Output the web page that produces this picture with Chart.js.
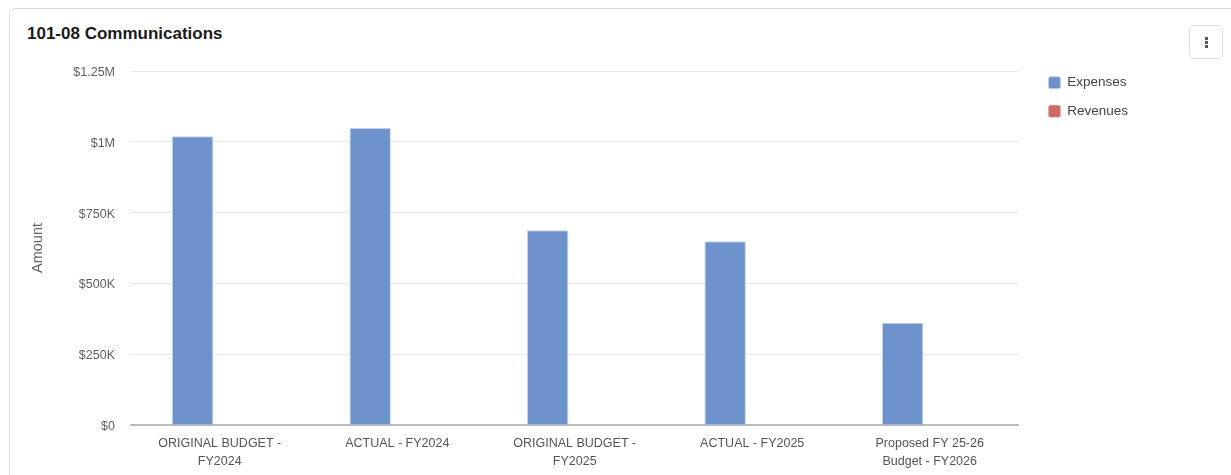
<!DOCTYPE html>
<html>
<head>
<meta charset="utf-8">
<title>101-08 Communications</title>
<script src="https://cdn.jsdelivr.net/npm/chart.js@4.4.1/dist/chart.umd.min.js"></script>
<style>
    html, body {
        margin: 0;
        padding: 0;
        width: 1231px;
        height: 475px;
        overflow: hidden;
        background: #ffffff;
        font-family: "Liberation Sans", Arial, Helvetica, sans-serif;
    }
    .card {
        position: absolute;
        left: 9px;
        top: 8px;
        width: 1240px;
        height: 480px;
        border: 1px solid #dcdcdc;
        border-radius: 6px;
        background: #ffffff;
    }
    .card-title {
        position: absolute;
        left: 17px;
        top: 15px;
        margin: 0;
        font-size: 17px;
        font-weight: bold;
        color: #1a1a1a;
    }
    .menu-btn {
        position: absolute;
        left: 1179px;
        top: 16px;
        width: 32px;
        height: 32px;
        border: 1px solid #dedede;
        border-radius: 5px;
        background: #ffffff;
    }
    .menu-btn span {
        position: absolute;
        left: 15px;
        width: 3px;
        height: 3px;
        background: #555;
    }
    .chart-wrap {
        position: absolute;
        left: 0;
        top: 0;
        width: 1231px;
        height: 475px;
    }
</style>
</head>
<body>
<div class="card">
    <h3 class="card-title">101-08 Communications</h3>
    <div class="menu-btn"><span style="top:11px"></span><span style="top:15px"></span><span style="top:19px"></span></div>
</div>
<div class="chart-wrap">
    <canvas id="budgetChart"></canvas>
</div>

<script>
// Budget lines shown on the x axis
const categories = [
    ['ORIGINAL BUDGET -', 'FY2024'],
    'ACTUAL - FY2024',
    ['ORIGINAL BUDGET -', 'FY2025'],
    'ACTUAL - FY2025',
    ['Proposed FY 25-26', 'Budget - FY2026']
];

// Amounts in dollars
const expenses = [1020000, 1049000, 688000, 649000, 361000];
const revenues = [0, 0, 0, 0, 0];

// Y axis range / steps
const yMax = 1250000;
const yStep = 250000;

// $1.25M / $750K style labels
function formatAmount(value) {
    if (value === 0) return '$0';
    if (value >= 1000000) return '$' + parseFloat((value / 1000000).toFixed(2)) + 'M';
    return '$' + parseFloat((value / 1000).toFixed(1)) + 'K';
}

// Legend sits a bit further out from the plot and a bit higher than Chart.js places it
const legendOffset = {
    id: 'legendOffset',
    afterLayout(chart) {
        const legend = chart.legend;
        if (!legend) return;
        legend.left += 15;
        legend.right += 15;
        legend.top -= 10;
    }
};

const ctx = document.getElementById('budgetChart').getContext('2d');

new Chart(ctx, {
    type: 'bar',
    data: {
        labels: categories,
        datasets: [
            {
                label: 'Expenses',
                data: expenses,
                backgroundColor: '#6e92cb',
                borderColor: '#c3d2ea',
                borderWidth: 1,
                borderSkipped: 'start',
                categoryPercentage: 0.61,
                barPercentage: 0.765
            },
            {
                label: 'Revenues',
                data: revenues,
                backgroundColor: '#cc6c67',
                borderWidth: 0,
                categoryPercentage: 0.61,
                barPercentage: 0.765
            }
        ]
    },
    options: {
        responsive: true,
        maintainAspectRatio: false,
        animation: false,
        events: [],
        layout: {
            padding: { top: 71, right: 108, bottom: 0, left: 0 }
        },
        plugins: {
            legend: {
                display: true,
                position: 'right',
                align: 'start',
                fullSize: false,
                labels: {
                    boxWidth: 12,
                    boxHeight: 12,
                    useBorderRadius: true,
                    borderRadius: 2,
                    padding: 15,
                    color: '#444444',
                    font: { family: '"Liberation Sans", Arial, sans-serif', size: 13.5 }
                }
            },
            tooltip: { enabled: false }
        },
        scales: {
            x: {
                grid: { display: false, drawTicks: false },
                border: { display: true, color: '#b9bdc1', width: 2 },
                ticks: {
                    color: '#555555',
                    padding: 9,
                    maxRotation: 0,
                    autoSkip: false,
                    font: { family: '"Liberation Sans", Arial, sans-serif', size: 12.5, lineHeight: 1.45 }
                },
                afterFit: (scale) => { scale.height = 50; }
            },
            y: {
                min: 0,
                max: yMax,
                grid: { color: '#e6e6e6', drawTicks: false },
                border: { display: false },
                ticks: {
                    stepSize: yStep,
                    color: '#5f5f5f',
                    padding: 16,
                    labelOffset: 1.5,
                    font: { family: '"Liberation Sans", Arial, sans-serif', size: 12.5 },
                    callback: (value) => formatAmount(value)
                },
                title: {
                    display: true,
                    text: 'Amount',
                    color: '#666666',
                    padding: { top: 29, bottom: 0 },
                    font: { family: '"Liberation Sans", Arial, sans-serif', size: 14.5, lineHeight: 1.2 }
                },
                afterFit: (scale) => { scale.width = 131; }
            }
        }
    },
    plugins: [legendOffset]
});
</script>
</body>
</html>
